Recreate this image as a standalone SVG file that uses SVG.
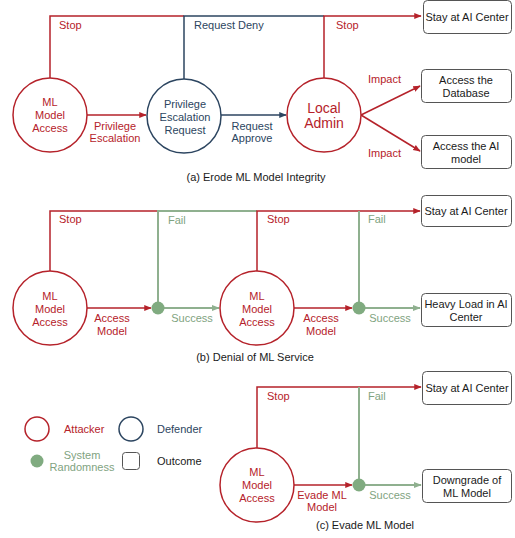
<svg xmlns="http://www.w3.org/2000/svg" width="515" height="538" viewBox="0 0 515 538">
<style>
text{font-family:"Liberation Sans",Arial,sans-serif;font-size:11px;text-anchor:middle;dominant-baseline:central}
.r{fill:#b5222a}
.b{fill:#2c4560}
.g{fill:#7fa37f}
.k{fill:#1a1a1a}
.att{fill:#fff;stroke:#b5222a;stroke-width:1.5}
.def{fill:#fff;stroke:#2c4560;stroke-width:1.5}
.dot{fill:#80ab80}
.box{fill:#fff;stroke:#555;stroke-width:1}
.lr{fill:none;stroke:#b5222a;stroke-width:1.5}
.lb{fill:none;stroke:#2c4560;stroke-width:1.5}
.lg{fill:none;stroke:#8fb08f;stroke-width:2}
.big{font-size:14px}
.lft{text-anchor:start}
</style>
<defs>
<marker id="ar" viewBox="0 0 10 10" refX="9" refY="5" markerWidth="5" markerHeight="5" orient="auto"><path d="M0,1 L10,5 L0,9 z" fill="#b5222a"/></marker>
<marker id="ab" viewBox="0 0 10 10" refX="9" refY="5" markerWidth="5" markerHeight="5" orient="auto"><path d="M0,1 L10,5 L0,9 z" fill="#2c4560"/></marker>
<marker id="ag" viewBox="0 0 10 10" refX="9" refY="5" markerWidth="4" markerHeight="4" orient="auto"><path d="M0,1 L10,5 L0,9 z" fill="#8fb08f"/></marker>
</defs>

<g id="connectors">
<!-- (a) -->
<polyline class="lr" points="50,78 50,16 184,16"/>
<polyline class="lb" points="184,79 184,16 324,16"/>
<polyline class="lr" points="324,78 324,16 421,16" marker-end="url(#ar)"/>
<line class="lr" x1="87" y1="115" x2="146" y2="115" marker-end="url(#ar)"/>
<line class="lb" x1="221" y1="115" x2="286" y2="115" marker-end="url(#ab)"/>
<line class="lr" x1="361" y1="115" x2="420" y2="86" marker-end="url(#ar)"/>
<line class="lr" x1="361" y1="115" x2="420" y2="151" marker-end="url(#ar)"/>
<!-- (b) -->
<polyline class="lr" points="50,271 50,211 158,211"/>
<polyline class="lg" points="158,308 158,211 257,211"/>
<polyline class="lr" points="257,271 257,211 420,211" marker-end="url(#ar)"/>
<line class="lg" x1="359" y1="308" x2="359" y2="211"/>
<line class="lr" x1="87" y1="308" x2="151" y2="308" marker-end="url(#ar)"/>
<line class="lg" x1="158" y1="308" x2="219" y2="308" marker-end="url(#ag)"/>
<line class="lr" x1="294" y1="308" x2="352" y2="308" marker-end="url(#ar)"/>
<line class="lg" x1="359" y1="308" x2="420" y2="308" marker-end="url(#ag)"/>
<!-- (c) -->
<polyline class="lr" points="257,448 257,387 421,387" marker-end="url(#ar)"/>
<line class="lg" x1="359" y1="485" x2="359" y2="387"/>
<line class="lr" x1="294" y1="485" x2="352" y2="485" marker-end="url(#ar)"/>
<line class="lg" x1="359" y1="485" x2="421" y2="485" marker-end="url(#ag)"/>
</g>

<g id="edge-labels">
<text class="r lft" x="59" y="25">Stop</text>
<text class="b lft" x="194" y="25">Request Deny</text>
<text class="r lft" x="336" y="25">Stop</text>
<text class="r" x="115" y="126">Privilege</text>
<text class="r" x="115" y="138">Escalation</text>
<text class="b" x="252" y="126">Request</text>
<text class="b" x="252" y="138">Approve</text>
<text class="r lft" x="368" y="79">Impact</text>
<text class="r lft" x="368" y="153">Impact</text>
<text class="r lft" x="59" y="219">Stop</text>
<text class="g lft" x="168" y="220">Fail</text>
<text class="r lft" x="267" y="219">Stop</text>
<text class="g lft" x="368" y="219">Fail</text>
<text class="r" x="112" y="318">Access</text>
<text class="r" x="112" y="331">Model</text>
<text class="g" x="192" y="318">Success</text>
<text class="r" x="321" y="318">Access</text>
<text class="r" x="321" y="331">Model</text>
<text class="g" x="390" y="318">Success</text>
<text class="r lft" x="267" y="396">Stop</text>
<text class="g lft" x="368" y="396">Fail</text>
<text class="r" x="322" y="495">Evade ML</text>
<text class="r" x="322" y="507">Model</text>
<text class="g" x="390" y="495">Success</text>
</g>

<g id="a-ml-access"><circle class="att" cx="50" cy="115" r="37"/><text class="r" x="50" y="102">ML</text><text class="r" x="50" y="115">Model</text><text class="r" x="50" y="128">Access</text></g>
<g id="a-priv-request"><circle class="def" cx="184" cy="116" r="37"/><text class="b" x="185" y="104">Privilege</text><text class="b" x="185" y="117">Escalation</text><text class="b" x="185" y="130">Request</text></g>
<g id="a-local-admin"><circle class="att" cx="324" cy="115" r="37"/><text class="r big" x="324" y="108">Local</text><text class="r big" x="324" y="123">Admin</text></g>
<g id="a-stay"><rect class="box" x="423.5" y="0.5" width="88" height="33" rx="4"/><text class="k" x="467" y="17">Stay at AI Center</text></g>
<g id="a-database"><rect class="box" x="421.5" y="69.5" width="90" height="33" rx="4"/><text class="k" x="466" y="80">Access the</text><text class="k" x="466" y="93">Database</text></g>
<g id="a-aimodel"><rect class="box" x="421.5" y="135.5" width="90" height="33" rx="4"/><text class="k" x="466" y="146">Access the AI</text><text class="k" x="466" y="159">model</text></g>
<text class="k" x="256" y="177">(a) Erode ML Model Integrity</text>

<g id="b-ml-access-1"><circle class="att" cx="50" cy="308" r="37"/><text class="r" x="50" y="296">ML</text><text class="r" x="50" y="309">Model</text><text class="r" x="50" y="322">Access</text></g>
<g id="b-rand-1"><circle class="dot" cx="158" cy="308" r="6.5"/></g>
<g id="b-ml-access-2"><circle class="att" cx="257" cy="308" r="37"/><text class="r" x="257" y="296">ML</text><text class="r" x="257" y="309">Model</text><text class="r" x="257" y="322">Access</text></g>
<g id="b-rand-2"><circle class="dot" cx="359" cy="308" r="6.5"/></g>
<g id="b-stay"><rect class="box" x="421.5" y="195.5" width="90" height="31" rx="4"/><text class="k" x="466" y="211">Stay at AI Center</text></g>
<g id="b-heavy"><rect class="box" x="421.5" y="293.5" width="90" height="33" rx="4"/><text class="k" x="466" y="304">Heavy Load in AI</text><text class="k" x="466" y="317">Center</text></g>
<text class="k" x="255" y="357">(b) Denial of ML Service</text>

<g id="c-ml-access"><circle class="att" cx="257" cy="485" r="37"/><text class="r" x="257" y="472">ML</text><text class="r" x="257" y="485">Model</text><text class="r" x="257" y="498">Access</text></g>
<g id="c-rand"><circle class="dot" cx="359" cy="485" r="6.5"/></g>
<g id="c-stay"><rect class="box" x="422.5" y="371.5" width="89" height="33" rx="4"/><text class="k" x="467" y="388">Stay at AI Center</text></g>
<g id="c-downgrade"><rect class="box" x="422.5" y="469.5" width="89" height="33" rx="4"/><text class="k" x="467" y="480">Downgrade of</text><text class="k" x="467" y="493">ML Model</text></g>
<text class="k" x="365" y="525">(c) Evade ML Model</text>

<g id="legend">
<circle class="att" cx="37" cy="429" r="12"/><text class="r lft" x="64" y="429">Attacker</text>
<circle class="def" cx="131" cy="429" r="12"/><text class="b lft" x="157" y="429">Defender</text>
<circle class="dot" cx="37" cy="461" r="6.5"/><text class="g" x="82" y="455">System</text><text class="g" x="82" y="467">Randomness</text>
<rect x="122.5" y="452.5" width="17" height="17" rx="3" fill="#fff" stroke="#555"/><text class="k lft" x="157" y="461">Outcome</text>
</g>
</svg>
